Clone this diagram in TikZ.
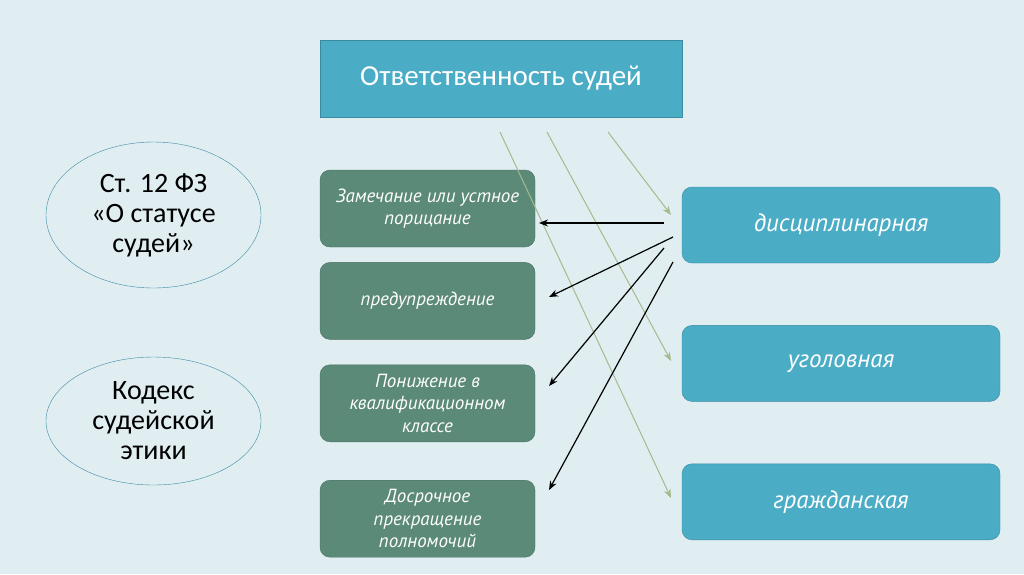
\documentclass[tikz,border=0pt]{standalone}
\usepackage{fontspec}
\setmainfont{Carlito}
\newfontfamily\boxfont{PT Sans}
\usetikzlibrary{arrows.meta, positioning, shapes.geometric}
\definecolor{bgblue}{HTML}{E0EEF2}
\definecolor{aqua}{HTML}{4BACC6}
\definecolor{aqualine}{HTML}{3A8AA0}
\definecolor{sage}{HTML}{5C8A78}
\definecolor{sageline}{HTML}{46715F}
\definecolor{olive}{HTML}{A7B98C}
\tikzset{headbox/.style={rectangle,draw=aqualine,fill=aqua,text=white,minimum width=362pt,minimum height=77pt,inner sep=0pt,font=\fontsize{29}{34}\selectfont},typebox/.style={rectangle,draw=aqualine,fill=aqua,rounded corners=10pt,text=white,minimum width=318pt,minimum height=76pt,inner sep=0pt,font=\boxfont\itshape\fontsize{25}{30}\selectfont},penbox/.style={rectangle,draw=sageline,fill=sage,rounded corners=10pt,text=white,align=center,minimum width=215pt,minimum height=77pt,inner sep=0pt,font=\boxfont\itshape\fontsize{19}{22.5}\selectfont},lawbox/.style={ellipse,draw=aqualine,align=center,minimum width=215pt,inner sep=0pt,font=\fontsize{28}{30}\selectfont},line/.style={-{Stealth[length=9pt,width=7pt]},line width=1.2pt},hintline/.style={-{Stealth[length=9pt,width=7pt]},draw=olive,line width=1pt}}

\begin{document}
\begin{tikzpicture}[x=1pt,y=-1pt]
\fill[bgblue] (0,0) rectangle (1024,574);
\node[headbox] (head) at (501,78.5) {Ответственность судей};
\node[typebox] (dis) at (841,225) {дисциплинарная};
\node[typebox, below=62pt of dis] (ugol) {уголовная};
\node[typebox, below=62pt of ugol] (grazh) {гражданская};
\node[penbox] (zam) at (427.5,208.5) {Замечание или устное\\порицание};
\node[penbox, below=15pt of zam] (pred) {предупреждение};
\node[penbox, below=25pt of pred] (pon) {Понижение в\\квалификационном\\классе};
\node[penbox, below=38pt of pon] (dos) {Досрочное\\прекращение\\полномочий};
\node[lawbox, minimum height=146pt] (stat) at (153.5,215) {Ст. 12 ФЗ\\«О статусе\\судей»};
\node[lawbox, minimum height=128pt] (kod) at (153.5,421) {Кодекс\\судейской\\этики};
\coordinate (h1) at (500,132);
\coordinate (h2) at (547,132);
\coordinate (h3) at (608,132);
\coordinate (e1) at (671,498);
\coordinate (e2) at (671,361);
\coordinate (e3) at (671,215);
\draw[hintline] (h1) -- (e1);
\draw[hintline] (h2) -- (e2);
\draw[hintline] (h3) -- (e3);
\coordinate (d1) at (664,223);
\coordinate (d2) at (673,237);
\coordinate (d3) at (664,248);
\coordinate (d4) at (673,262);
\coordinate (p1) at (539,223);
\coordinate (p2) at (549,297);
\coordinate (p3) at (549,386);
\coordinate (p4) at (549,490);
\draw[line] (d1) -- (p1);
\draw[line] (d2) -- (p2);
\draw[line] (d3) -- (p3);
\draw[line] (d4) -- (p4);
\end{tikzpicture}
\end{document}
